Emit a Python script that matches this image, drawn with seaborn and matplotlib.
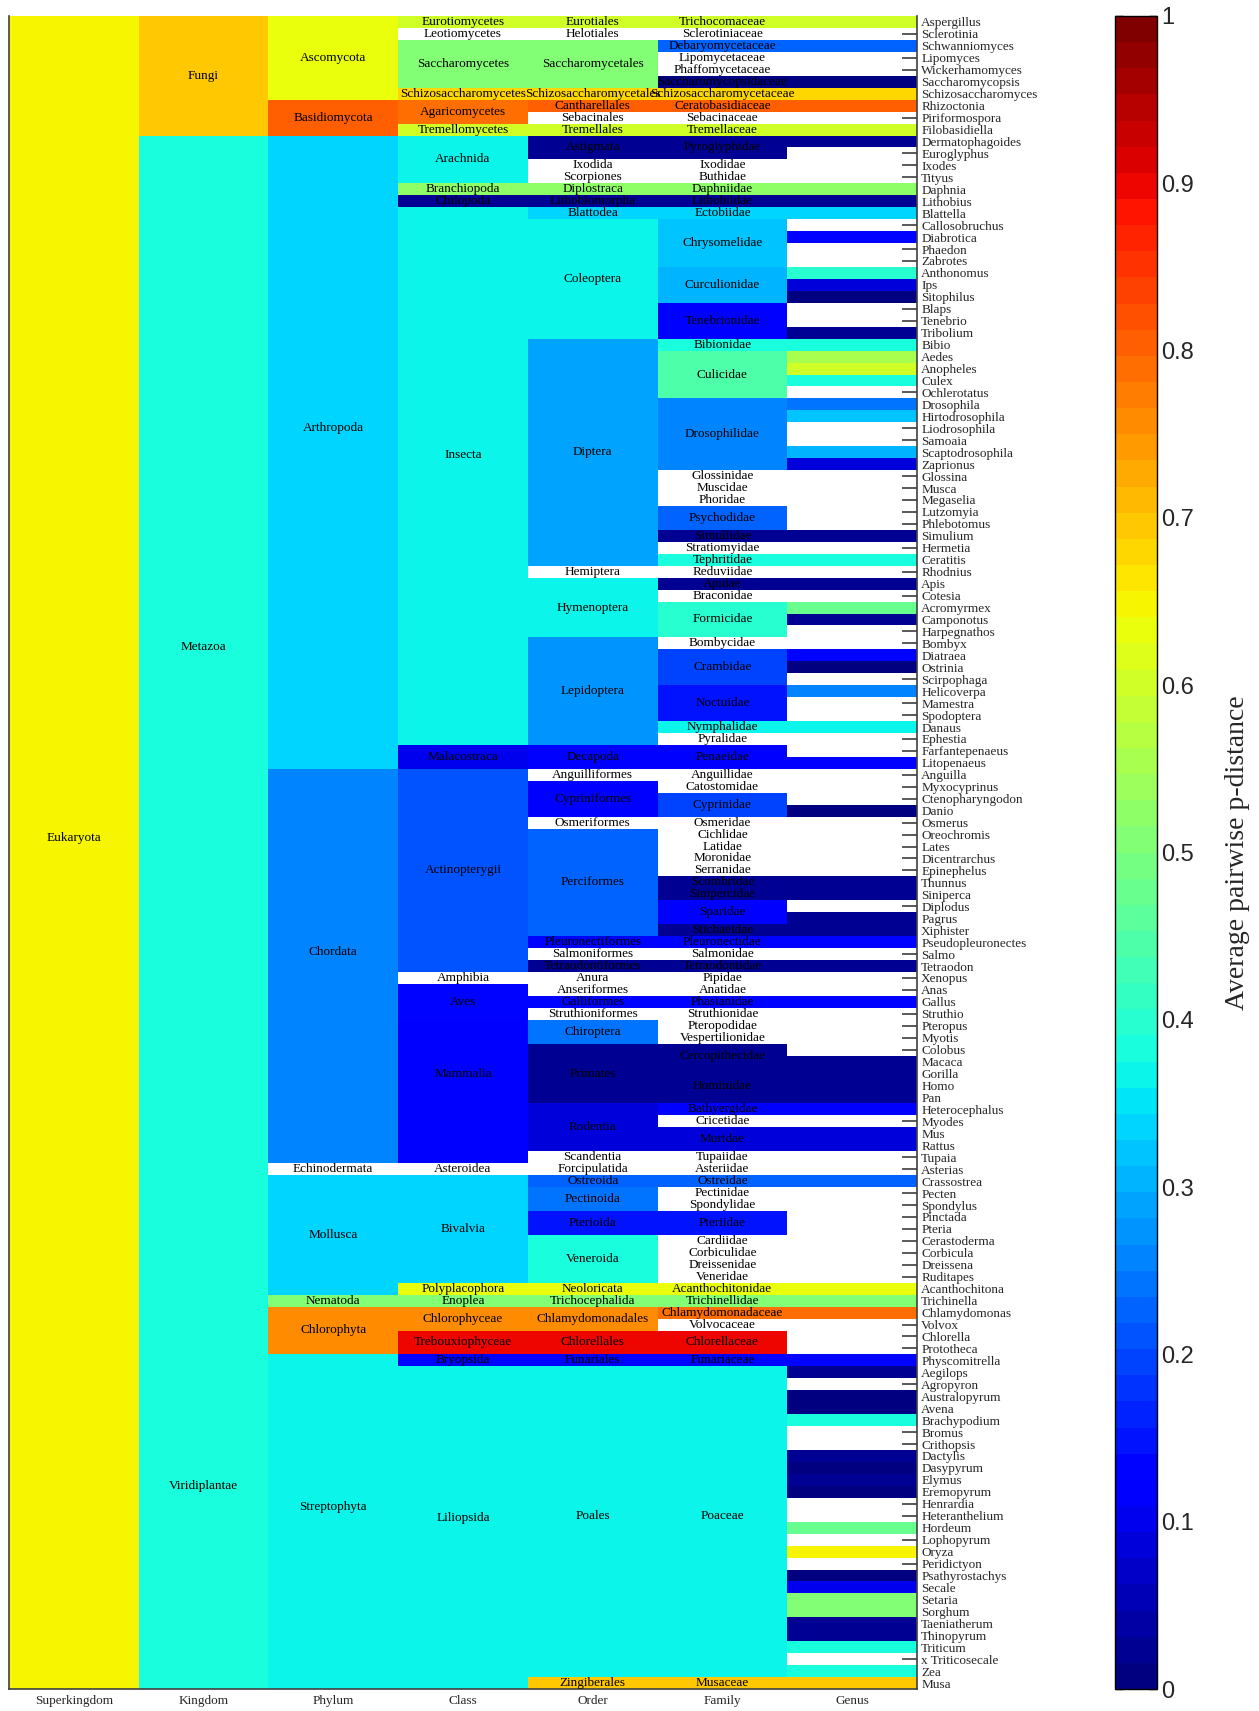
import numpy as np
import pandas as pd
import matplotlib
matplotlib.use("Agg")
import matplotlib.pyplot as plt
import seaborn as sns

NA = np.nan

levels = ["Superkingdom", "Kingdom", "Phylum", "Class", "Order", "Family", "Genus"]

genera = [
    "Aspergillus", "Sclerotinia", "Schwanniomyces", "Lipomyces", "Wickerhamomyces",
    "Saccharomycopsis", "Schizosaccharomyces", "Rhizoctonia", "Piriformospora", "Filobasidiella",
    "Dermatophagoides", "Euroglyphus", "Ixodes", "Tityus", "Daphnia", "Lithobius", "Blattella",
    "Callosobruchus", "Diabrotica", "Phaedon", "Zabrotes", "Anthonomus", "Ips", "Sitophilus",
    "Blaps", "Tenebrio", "Tribolium", "Bibio", "Aedes", "Anopheles", "Culex", "Ochlerotatus",
    "Drosophila", "Hirtodrosophila", "Liodrosophila", "Samoaia", "Scaptodrosophila", "Zaprionus",
    "Glossina", "Musca", "Megaselia", "Lutzomyia", "Phlebotomus", "Simulium", "Hermetia",
    "Ceratitis", "Rhodnius", "Apis", "Cotesia", "Acromyrmex", "Camponotus", "Harpegnathos",
    "Bombyx", "Diatraea", "Ostrinia", "Scirpophaga", "Helicoverpa", "Mamestra", "Spodoptera",
    "Danaus", "Ephestia", "Farfantepenaeus", "Litopenaeus", "Anguilla", "Myxocyprinus",
    "Ctenopharyngodon", "Danio", "Osmerus", "Oreochromis", "Lates", "Dicentrarchus",
    "Epinephelus", "Thunnus", "Siniperca", "Diplodus", "Pagrus", "Xiphister",
    "Pseudopleuronectes", "Salmo", "Tetraodon", "Xenopus", "Anas", "Gallus", "Struthio",
    "Pteropus", "Myotis", "Colobus", "Macaca", "Gorilla", "Homo", "Pan", "Heterocephalus",
    "Myodes", "Mus", "Rattus", "Tupaia", "Asterias", "Crassostrea", "Pecten", "Spondylus",
    "Pinctada", "Pteria", "Cerastoderma", "Corbicula", "Dreissena", "Ruditapes",
    "Acanthochitona", "Trichinella", "Chlamydomonas", "Volvox", "Chlorella", "Prototheca",
    "Physcomitrella", "Aegilops", "Agropyron", "Australopyrum", "Avena", "Brachypodium",
    "Bromus", "Crithopsis", "Dactylis", "Dasypyrum", "Elymus", "Eremopyrum", "Henrardia",
    "Heteranthelium", "Hordeum", "Lophopyrum", "Oryza", "Peridictyon", "Psathyrostachys",
    "Secale", "Setaria", "Sorghum", "Taeniatherum", "Thinopyrum", "Triticum",
    "x Triticosecale", "Zea", "Musa",
]

genus_values = [
    0.60, NA, 0.23, NA, NA, 0.01, 0.68, 0.80, NA, 0.60,
    0.02, NA, NA, NA, 0.53, 0.02, 0.33,
    NA, 0.14, NA, NA, 0.40, 0.09, 0.01,
    NA, NA, 0.02, 0.39, 0.56, 0.60, 0.39, NA,
    0.24, 0.32, NA, NA, 0.31, 0.09,
    NA, NA, NA, NA, NA, 0.02, NA,
    0.39, NA, 0.02, NA, 0.47, 0.03, NA,
    NA, 0.14, 0.01, NA, 0.25, NA, NA,
    0.36, NA, NA, 0.12, NA, NA,
    NA, 0.01, NA, NA, NA, NA,
    NA, 0.02, 0.02, NA, 0.02, 0.02,
    0.13, NA, 0.03, NA, NA, 0.13, NA,
    NA, NA, NA, 0.02, 0.02, 0.02, 0.02, 0.12,
    NA, 0.09, 0.09, NA, NA, 0.23, NA, NA,
    NA, NA, NA, NA, NA, NA,
    0.63, 0.50, 0.79, NA, NA, NA,
    0.13, 0.02, NA, 0.01, 0.01, 0.39,
    NA, NA, 0.03, 0.01, 0.03, 0.01, NA,
    NA, 0.48, NA, 0.645, NA, 0.01,
    0.10, 0.50, 0.50, 0.02, 0.02, 0.39,
    NA, 0.39, 0.70,
]

superkingdom_names = ["Eukaryota"]
superkingdom_sizes = [140]
superkingdom_values = [0.655]

kingdom_names = ["Fungi", "Metazoa", "Viridiplantae"]
kingdom_sizes = [10, 98, 32]
kingdom_values = [0.70, 0.385, 0.39]

phylum_names = ["Ascomycota", "Basidiomycota", "Arthropoda", "Chordata", "Echinodermata",
                "Mollusca", "Nematoda", "Chlorophyta", "Streptophyta"]
phylum_sizes = [7, 3, 53, 33, 1, 10, 1, 4, 28]
phylum_values = [0.625, 0.81, 0.34, 0.26, NA, 0.33, 0.50, 0.76, 0.365]

class_names = ["Eurotiomycetes", "Leotiomycetes", "Saccharomycetes", "Schizosaccharomycetes",
               "Agaricomycetes", "Tremellomycetes", "Arachnida", "Branchiopoda", "Chilopoda",
               "Insecta", "Malacostraca", "Actinopterygii", "Amphibia", "Aves", "Mammalia",
               "Asteroidea", "Bivalvia", "Polyplacophora", "Enoplea", "Chlorophyceae",
               "Trebouxiophyceae", "Bryopsida", "Liliopsida"]
class_sizes = [1, 1, 4, 1, 2, 1, 4, 1, 1, 45, 2, 17, 1, 3, 12, 1, 9, 1, 1, 2, 2, 1, 27]
class_values = [0.60, NA, 0.51, 0.68, 0.79, 0.60, 0.36, 0.53, 0.02, 0.36, 0.10, 0.21, NA,
                0.13, 0.11, NA, 0.34, 0.63, 0.50, 0.76, 0.90, 0.13, 0.36]

order_names = ["Eurotiales", "Helotiales", "Saccharomycetales", "Schizosaccharomycetales",
               "Cantharellales", "Sebacinales", "Tremellales", "Astigmata", "Ixodida",
               "Scorpiones", "Diplostraca", "Lithobiomorpha", "Blattodea", "Coleoptera",
               "Diptera", "Hemiptera", "Hymenoptera", "Lepidoptera", "Decapoda",
               "Anguilliformes", "Cypriniformes", "Osmeriformes", "Perciformes",
               "Pleuronectiformes", "Salmoniformes", "Tetraodontiformes", "Anura",
               "Anseriformes", "Galliformes", "Struthioniformes", "Chiroptera", "Primates",
               "Rodentia", "Scandentia", "Forcipulatida", "Ostreoida", "Pectinoida",
               "Pterioida", "Veneroida", "Neoloricata", "Trichocephalida",
               "Chlamydomonadales", "Chlorellales", "Funariales", "Poales", "Zingiberales"]
order_sizes = [1, 1, 4, 1, 1, 1, 1, 2, 1, 1, 1, 1, 1, 10, 19, 1, 5, 9, 2, 1, 3, 1, 9, 1, 1,
               1, 1, 1, 1, 1, 2, 5, 4, 1, 1, 1, 2, 2, 4, 1, 1, 2, 2, 1, 26, 1]
order_values = [0.60, NA, 0.51, 0.68, 0.80, NA, 0.60, 0.03, NA, NA, 0.53, 0.02, 0.33, 0.36,
                0.29, NA, 0.37, 0.27, 0.11, NA, 0.11, NA, 0.225, 0.13, NA, 0.03, NA, NA,
                0.13, NA, 0.24, 0.02, 0.09, NA, NA, 0.23, 0.24, 0.15, 0.39, 0.63, 0.50,
                0.76, 0.90, 0.13, 0.36, 0.70]

family_names = ["Trichocomaceae", "Sclerotiniaceae", "Debaryomycetaceae", "Lipomycetaceae",
                "Phaffomycetaceae", "Saccharomycopsidaceae", "Schizosaccharomycetaceae",
                "Ceratobasidiaceae", "Sebacinaceae", "Tremellaceae", "Pyroglyphidae",
                "Ixodidae", "Buthidae", "Daphniidae", "Lithobiidae", "Ectobiidae",
                "Chrysomelidae", "Curculionidae", "Tenebrionidae", "Bibionidae", "Culicidae",
                "Drosophilidae", "Glossinidae", "Muscidae", "Phoridae", "Psychodidae",
                "Simuliidae", "Stratiomyidae", "Tephritidae", "Reduviidae", "Apidae",
                "Braconidae", "Formicidae", "Bombycidae", "Crambidae", "Noctuidae",
                "Nymphalidae", "Pyralidae", "Penaeidae", "Anguillidae", "Catostomidae",
                "Cyprinidae", "Osmeridae", "Cichlidae", "Latidae", "Moronidae", "Serranidae",
                "Scombridae", "Sinipercidae", "Sparidae", "Stichaeidae", "Pleuronectidae",
                "Salmonidae", "Tetraodontidae", "Pipidae", "Anatidae", "Phasianidae",
                "Struthionidae", "Pteropodidae", "Vespertilionidae", "Cercopithecidae",
                "Hominidae", "Bathyergidae", "Cricetidae", "Muridae", "Tupaiidae",
                "Asteriidae", "Ostreidae", "Pectinidae", "Spondylidae", "Pteriidae",
                "Cardiidae", "Corbiculidae", "Dreissenidae", "Veneridae", "Acanthochitonidae",
                "Trichinellidae", "Chlamydomonadaceae", "Volvocaceae", "Chlorellaceae",
                "Funariaceae", "Poaceae", "Musaceae"]
family_sizes = [1, 1, 1, 1, 1, 1, 1, 1, 1, 1, 2, 1, 1, 1, 1, 1, 4, 3, 3, 1, 4, 6, 1, 1, 1,
                2, 1, 1, 1, 1, 1, 1, 3, 1, 3, 3, 1, 1, 2, 1, 1, 2, 1, 1, 1, 1, 1, 1, 1, 2,
                1, 1, 1, 1, 1, 1, 1, 1, 1, 1, 2, 3, 1, 1, 2, 1, 1, 1, 1, 1, 2, 1, 1, 1, 1,
                1, 1, 1, 1, 2, 1, 26, 1]
family_values = [0.60, NA, 0.23, NA, NA, 0.01, 0.68, 0.80, NA, 0.60, 0.03, NA, NA, 0.53,
                 0.02, 0.33, 0.32, 0.30, 0.11, 0.39, 0.45, 0.26, NA, NA, NA, 0.23, 0.02, NA,
                 0.39, NA, 0.02, NA, 0.40, NA, 0.20, 0.15, 0.36, NA, 0.11, NA, NA, 0.19,
                 NA, NA, NA, NA, NA, 0.02, 0.02, 0.11, 0.02, 0.13, NA, 0.03, NA, NA, 0.13,
                 NA, NA, NA, 0.02, 0.02, 0.12, NA, 0.09, NA, NA, 0.23, NA, NA, 0.15, NA,
                 NA, NA, NA, 0.63, 0.50, 0.79, NA, 0.90, 0.13, 0.36, 0.70]

hierarchy = [
    (superkingdom_names, superkingdom_sizes, superkingdom_values),
    (kingdom_names, kingdom_sizes, kingdom_values),
    (phylum_names, phylum_sizes, phylum_values),
    (class_names, class_sizes, class_values),
    (order_names, order_sizes, order_values),
    (family_names, family_sizes, family_values),
]

cols = {}
for lvl, (names, sizes, vals) in zip(levels[:-1], hierarchy):
    cols[lvl] = np.repeat(np.array(vals, dtype=float), sizes)
cols["Genus"] = np.array(genus_values, dtype=float)
df = pd.DataFrame(cols, index=genera)[levels]

# ---------------------------------------------------------------- drawing
sns.set_style("white")
plt.rcParams["font.family"] = ["Liberation Serif", "DejaVu Serif"]

W, H = 1259, 1711
fig = plt.figure(figsize=(W / 100, H / 100), dpi=100)
ax = fig.add_axes([9 / W, 22 / H, (917 - 9) / W, (1689 - 16) / H])
cax = fig.add_axes([1115 / W, 22 / H, 42 / W, (1689 - 16) / H])

cmap = matplotlib.colormaps["jet"].resampled(64)
sns.heatmap(df, mask=df.isna(), cmap=cmap, vmin=0, vmax=1, ax=ax, cbar_ax=cax,
            xticklabels=levels, yticklabels=genera, linewidths=0)

ax.set_axisbelow(True)
for c in ax.collections:
    c.set_zorder(1)

# spines
for side in ["left", "bottom", "right"]:
    ax.spines[side].set_visible(True)
    ax.spines[side].set_color("0.25")
    ax.spines[side].set_linewidth(1.2)
ax.spines["top"].set_visible(False)

ax.yaxis.tick_right()
ax.tick_params(axis="y", direction="in", length=11, width=1.4, color="0.35",
               left=False, right=True, labelleft=False, labelright=True,
               pad=3, labelsize=9.5)
for t in ax.get_yticklabels():
    t.set_rotation(0)
    t.set_ha("left")
ax.tick_params(axis="x", length=0, pad=4, labelsize=9.5)
for t in ax.get_xticklabels():
    t.set_rotation(0)
ax.set_xlabel("")
ax.set_ylabel("")

# text labels inside cells (a few large blocks have their label set a little high)
label_row_shift = {"Eukaryota": -1.2, "Metazoa": -6.2, "Viridiplantae": -1.0,
                   "Arthropoda": -2.0, "Chordata": -1.2, "Streptophyta": -1.2,
                   "Insecta": -1.8, "Mammalia": -1.5, "Liliopsida": -0.8,
                   "Poales": -0.5, "Poaceae": -0.5}
for li, (names, sizes, vals) in enumerate(hierarchy):
    start = 0
    for name, size in zip(names, sizes):
        yc = start + size / 2 + label_row_shift.get(name, 0)
        ax.text(li + 0.5, yc, name, ha="center", va="center", fontsize=9.5,
                color="black", zorder=5)
        start += size

# colorbar
cb = ax.collections[0].colorbar
cb.outline.set_linewidth(1.0)
cb.outline.set_edgecolor("black")
ticks = np.round(np.arange(0, 1.01, 0.1), 1)
cax.set_yticks(ticks)
cax.set_yticklabels(["0" if t == 0 else ("1" if t == 1 else f"{t:.1f}") for t in ticks],
                    family=["Liberation Sans", "DejaVu Sans"], fontsize=17)
cax.tick_params(axis="y", direction="in", length=6, width=1, color="black",
                left=True, right=True, labelright=True, labelleft=False, pad=3)
cax.set_ylabel("Average pairwise p-distance", fontsize=20, labelpad=22,
               family=["Liberation Serif", "DejaVu Serif"])
cax.yaxis.set_label_position("right")

fig.savefig("out.png", dpi=100, facecolor="white")
